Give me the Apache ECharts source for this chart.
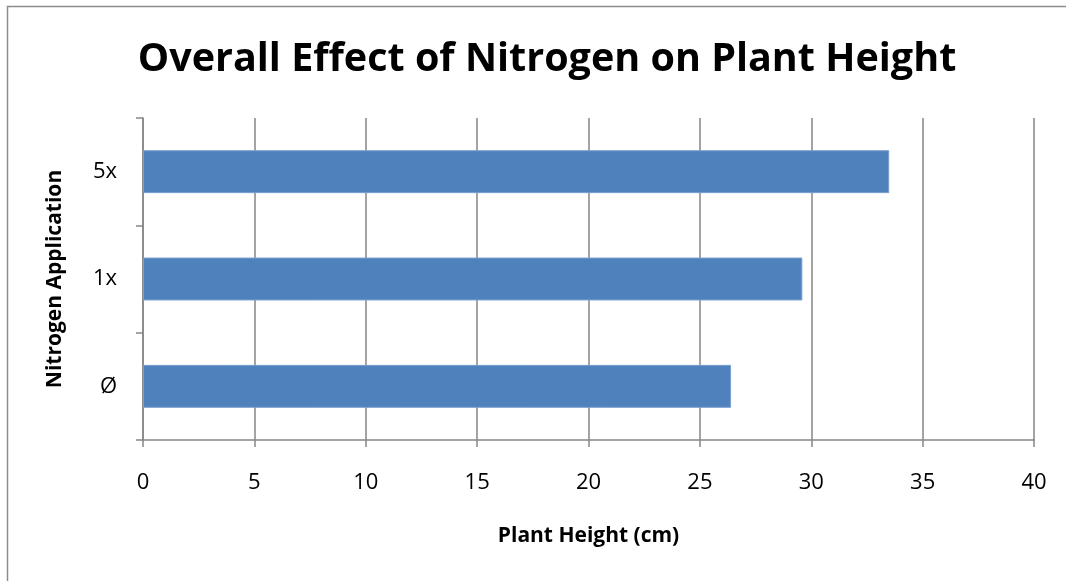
<!DOCTYPE html>
<html>
<head>
<meta charset="utf-8">
<script src="https://cdn.jsdelivr.net/npm/echarts@6/dist/echarts.min.js"></script>
<style>
html, body { margin: 0; padding: 0; background: #fff; }
#chart { width: 1066px; height: 581px; }
</style>
</head>
<body>
<div id="chart"></div>
<script>
// data
const categories = ['Ø', '1x', '5x'];
const heights = [26.4, 29.6, 33.5];
const xTicks = [0, 40, 5]; // min, max, interval

const myChart = echarts.init(document.getElementById('chart'));
const font = '"Open Sans", "Liberation Sans", sans-serif';
const gray = '#868686';

const option = {
    backgroundColor: '#fff',
    animation: false,
    title: {
        text: 'Overall Effect of Nitrogen on Plant Height',
        left: 542,
        textAlign: 'center',
        top: 35,
        textStyle: { fontFamily: font, fontWeight: 'bold', fontSize: 39.5, color: '#000' }
    },
    // chart frame, only top and left edges are inside the picture
    graphic: [{
        type: 'polyline',
        shape: { points: [[7.5, 590], [7.5, 6.5], [1070, 6.5]] },
        style: { fill: null, stroke: '#8c8c8c', lineWidth: 1.5 },
        z: -1
    }],
    grid: { left: 143, right: 32, top: 118, bottom: 141 },
    xAxis: {
        type: 'value',
        min: xTicks[0],
        max: xTicks[1],
        interval: xTicks[2],
        name: 'Plant Height (cm)',
        nameLocation: 'middle',
        nameGap: 86,
        nameTextStyle: { fontFamily: font, fontWeight: 'bold', fontSize: 21, color: '#000' },
        axisLine: { show: true, lineStyle: { color: gray, width: 1.5 } },
        axisTick: { show: true, length: 7, lineStyle: { color: gray, width: 1.5 } },
        axisLabel: { fontFamily: font, fontSize: 22, color: '#000', margin: 32 },
        splitLine: { show: true, lineStyle: { color: gray, width: 1.5 } }
    },
    yAxis: {
        type: 'category',
        data: categories,
        name: 'Nitrogen Application',
        nameLocation: 'middle',
        nameGap: 77,
        nameTextStyle: { fontFamily: font, fontWeight: 'bold', fontSize: 21, color: '#000' },
        axisLine: { show: true, lineStyle: { color: gray, width: 1.5 } },
        axisTick: { show: true, length: 7, alignWithLabel: false, lineStyle: { color: gray, width: 1.5 } },
        axisLabel: { fontFamily: font, fontSize: 22, color: '#000', margin: 26 },
        splitLine: { show: false }
    },
    series: [{
        type: 'bar',
        data: heights,
        barCategoryGap: '60%',
        itemStyle: { color: '#4F81BD', borderColor: '#7a9fd0', borderWidth: 1 }
    }]
};

myChart.setOption(option, true);
window.addEventListener('resize', myChart.resize);
</script>
</body>
</html>
